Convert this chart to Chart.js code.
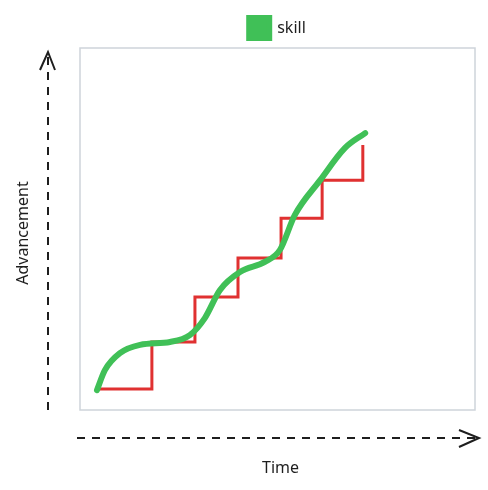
<!DOCTYPE html>
<html>
<head>
<meta charset="utf-8">
<script src="https://cdn.jsdelivr.net/npm/chart.js@4"></script>
<style>
  html, body { margin: 0; padding: 0; background: #fff; }
  #wrap { width: 488px; height: 490px; }
</style>
</head>
<body>
<div id="wrap"><canvas id="chart"></canvas></div>
<script>
// ===== data (x: time 0-100, y: advancement 0-100) =====
const skillX = [4.3, 6.3, 10.1, 15.2, 22.8, 27.8, 31.6, 35.4, 40.5, 46.8, 50.6, 54.4, 60.8, 67.1, 72.2];
const skillY = [5.5, 11, 15.7, 18, 18.8, 20.7, 25.4, 33.1, 38.1, 40.9, 44.2, 53.9, 63.5, 72.4, 76.5];
const stepX = [4.3, 18.2, 29.1, 40, 50.9, 61.3, 71.6];
const stepY = [5.8, 18.8, 31.2, 42, 53, 63.5, 73.2];
const xTitle = "Time";
const yTitle = "Advancement";

const font = "'Noto Sans', sans-serif";

// 枠線・矢印・軸タイトル
const decor = {
  id: "decor",
  beforeDatasetsDraw(chart) {
    const { ctx, chartArea: a } = chart;
    ctx.save();
    ctx.strokeStyle = "#ced4da";
    ctx.lineWidth = 1.5;
    ctx.strokeRect(a.left, a.top, a.right - a.left, a.bottom - a.top);
    ctx.restore();
  },
  afterDraw(chart) {
    const { ctx, chartArea: a } = chart;
    ctx.save();
    ctx.strokeStyle = "#1e1e1e";
    ctx.lineWidth = 2;
    ctx.setLineDash([8, 7]);
    // y arrow
    ctx.beginPath();
    ctx.moveTo(a.left - 32, a.bottom);
    ctx.lineTo(a.left - 32, a.top + 4);
    ctx.stroke();
    // x arrow
    ctx.beginPath();
    ctx.moveTo(a.left - 3, a.bottom + 28);
    ctx.lineTo(a.right + 3, a.bottom + 28);
    ctx.stroke();
    ctx.setLineDash([]);
    ctx.beginPath();
    ctx.moveTo(a.left - 40, a.top + 22);
    ctx.lineTo(a.left - 32, a.top + 4);
    ctx.lineTo(a.left - 25, a.top + 22);
    ctx.moveTo(a.right - 16, a.bottom + 20);
    ctx.lineTo(a.right + 4, a.bottom + 28);
    ctx.lineTo(a.right - 16, a.bottom + 37);
    ctx.stroke();
    // titles
    ctx.fillStyle = "#1e1e1e";
    ctx.font = "16px " + font;
    ctx.textAlign = "center";
    ctx.textBaseline = "middle";
    ctx.fillText(xTitle, (a.left + a.right) / 2 + 3, a.bottom + 58);
    ctx.translate(a.left - 57, (a.top + a.bottom) / 2 + 4);
    ctx.rotate(-Math.PI / 2);
    ctx.fillText(yTitle, 0, 0);
    ctx.restore();
  }
};

new Chart(document.getElementById("chart"), {
  type: "line",
  data: {
    datasets: [
      {
        label: "skill",
        data: skillX.map((x, i) => ({ x, y: skillY[i] })),
        borderColor: "#40c057",
        backgroundColor: "#40c057",
        borderWidth: 6,
        tension: 0.4,
        cubicInterpolationMode: "monotone",
        pointRadius: 0,
        borderCapStyle: "round",
        order: 0
      },
      {
        label: "steps",
        data: stepX.map((x, i) => ({ x, y: stepY[i] })),
        borderColor: "#e03131",
        borderWidth: 3,
        stepped: "before",
        pointRadius: 0,
        order: 1
      }
    ]
  },
  options: {
    responsive: true,
    maintainAspectRatio: false,
    animation: false,
    layout: { padding: { left: 80, right: 13, top: 6, bottom: 80 } },
    scales: {
      x: { type: "linear", min: 0, max: 100, display: false },
      y: { min: 0, max: 100, display: false }
    },
    plugins: {
      tooltip: { enabled: false },
      legend: {
        position: "top",
        labels: {
          filter: item => item.text === "skill",
          boxWidth: 20,
          boxHeight: 20,
          padding: 12,
          color: "#1e1e1e",
          font: { family: font, size: 16 }
        }
      }
    }
  },
  plugins: [decor]
});
</script>
</body>
</html>
